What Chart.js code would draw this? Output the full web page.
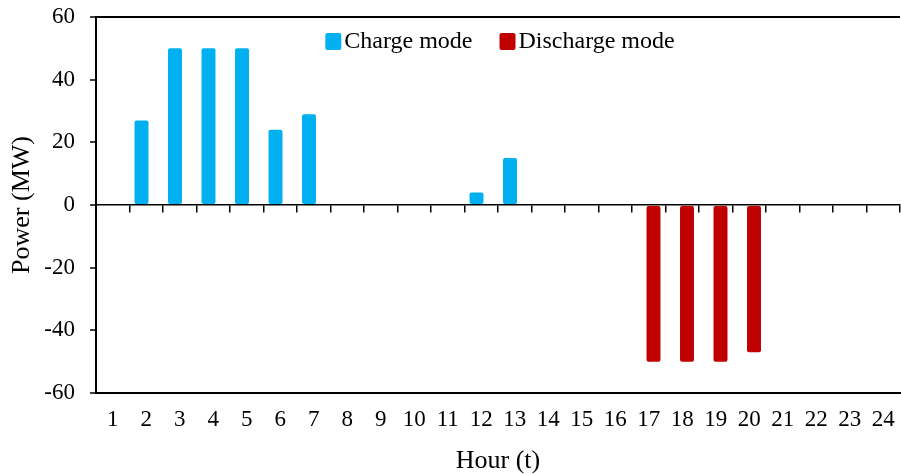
<!DOCTYPE html>
<html>
<head>
<meta charset="utf-8">
<script src="https://cdn.jsdelivr.net/npm/chart.js@4.4.0/dist/chart.umd.min.js"></script>
<style>
    html, body { margin: 0; padding: 0; background: #fff; }
    #wrap { width: 901px; height: 474px; }
</style>
</head>
<body>
<div id="wrap"><canvas id="barChart" width="901" height="474"></canvas></div>
<script>
// hours 1..24
const hours = ['1', '2', '3', '4', '5', '6', '7', '8', '9', '10', '11', '12',
    '13', '14', '15', '16', '17', '18', '19', '20', '21', '22', '23', '24'];
const chargeMW = [null, 27, 50, 50, 50, 24, 29, null, null, null, null, 4,
    15, null, null, null, null, null, null, null, null, null, null, null];
const dischargeMW = [null, null, null, null, null, null, null, null, null, null, null, null,
    null, null, null, null, -50, -50, -50, -47, null, null, null, null];
const yTicks = [-60, -40, -20, 0, 20, 40, 60];

const serif = 'Liberation Serif';

// legend drawn inside the plot, near the top, like the excel one
const insideLegend = {
    id: 'insideLegend',
    afterDraw(chart) {
        const ctx = chart.ctx;
        const area = chart.chartArea;
        const box = 16, gapText = 3, gapItem = 27;
        ctx.save();
        ctx.font = '24px "' + serif + '"';
        ctx.textBaseline = 'middle';
        ctx.textAlign = 'left';
        const items = chart.data.datasets.map(ds => ({
            text: ds.label,
            color: ds.backgroundColor,
            w: box + gapText + ctx.measureText(ds.label).width
        }));
        const total = items.reduce((s, it) => s + it.w, 0) + gapItem * (items.length - 1);
        let x = (area.left + area.right) / 2 - total / 2 + 2;
        const yMid = area.top + 24;
        items.forEach(it => {
            ctx.fillStyle = it.color;
            ctx.beginPath();
            ctx.roundRect(x, yMid - box / 2, box, box + 1, 2);
            ctx.fill();
            ctx.fillStyle = '#000';
            ctx.fillText(it.text, x + box + gapText, yMid + 1);
            x += it.w + gapItem;
        });
        ctx.restore();
    }
};

const noPad = (scale) => {
    scale.paddingLeft = 0;
    scale.paddingRight = 0;
};

const config = {
    type: 'bar',
    data: {
        labels: hours,
        datasets: [{
            label: 'Charge mode',
            data: chargeMW,
            backgroundColor: '#00B0F0',
            borderRadius: 2,
            borderSkipped: false
        }, {
            label: 'Discharge mode',
            data: dischargeMW,
            backgroundColor: '#C00000',
            borderRadius: 2,
            borderSkipped: false
        }]
    },
    options: {
        responsive: false,
        animation: false,
        categoryPercentage: 0.567,
        barPercentage: 1.47,
        layout: {
            padding: { top: 17, right: 1, bottom: 0, left: 0 }
        },
        plugins: {
            tooltip: { enabled: false },
            legend: { display: false }
        },
        scales: {
            x: {
                offset: true,
                afterFit: noPad,
                grid: { offset: true, drawOnChartArea: false, drawTicks: false },
                border: { color: '#000', width: 2 },
                ticks: {
                    color: '#000',
                    font: { family: serif, size: 23, lineHeight: 1 },
                    padding: 15,
                    maxRotation: 0,
                    autoSkip: false
                },
                title: {
                    display: true,
                    text: 'Hour (t)',
                    color: '#000',
                    font: { family: serif, size: 26, lineHeight: 1 },
                    padding: { top: 2, bottom: 0 }
                }
            },
            // axis line through zero with its tick marks
            xZero: {
                type: 'category',
                axis: 'x',
                position: { y: 0 },
                offset: true,
                afterFit: (scale) => {
                    noPad(scale);
                    scale.height = 0;
                },
                grid: {
                    offset: true,
                    drawOnChartArea: false,
                    tickLength: 7,
                    tickColor: '#000',
                    lineWidth: 1.5
                },
                border: { color: '#000', width: 1.5 },
                ticks: { display: false }
            },
            y: {
                min: -60,
                max: 60,
                afterBuildTicks: (scale) => {
                    scale.ticks = yTicks.map(v => ({ value: v }));
                },
                afterFit: (scale) => {
                    scale.width = 96;
                    scale.paddingTop = 0;
                    scale.paddingBottom = 0;
                },
                grid: {
                    drawOnChartArea: true,
                    color: (c) => (c.tick && c.tick.value === 60) ? '#000' : 'rgba(0,0,0,0)',
                    lineWidth: 2,
                    tickLength: 6,
                    tickColor: '#000',
                    tickWidth: 1.5
                },
                border: { color: '#000', width: 2 },
                ticks: {
                    color: '#000',
                    font: { family: serif, size: 23 },
                    padding: 15
                },
                title: {
                    display: true,
                    text: 'Power (MW)',
                    color: '#000',
                    font: { family: serif, size: 26, lineHeight: 1 },
                    padding: { top: 9, bottom: 0 }
                }
            }
        }
    },
    plugins: [insideLegend]
};

const myChart = new Chart(document.getElementById('barChart'), config);
</script>
</body>
</html>
